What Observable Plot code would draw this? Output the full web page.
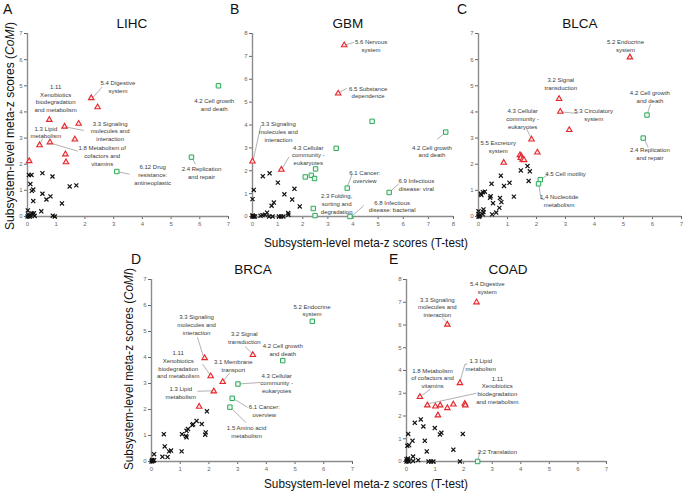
<!DOCTYPE html>
<html><head><meta charset="utf-8">
<script src="https://cdn.jsdelivr.net/npm/d3@7"></script>
<script src="https://cdn.jsdelivr.net/npm/@observablehq/plot@0.6"></script>
<style>
body{margin:0;background:#fff;}
#fig{position:relative;width:685px;height:491px;overflow:hidden;background:#fff;}
#fig svg{position:absolute;overflow:visible;}
</style></head><body><div id="fig"></div>
<script>
// ---------- LIHC ----------
const lihcOther = [[0.05,1.59],[0.14,1.59],[0.52,1.66],[0.87,1.53],[0.10,1.24],[0.20,1.03],[0.15,0.98],[0.52,0.87],[0.80,0.77],[0.66,0.65],[0.20,0.59],[1.20,0.50],[1.47,1.15],[1.70,1.19],[0.48,0.20],[0.01,0.23],[0.20,0.08],[0.22,0.13],[0.10,0.05],[0.05,0.02],[0.88,0.03],[0.95,0.00],[0.00,0.00],[0.03,0.05],[0.08,0.00],[0.15,0.12],[0.25,0.02]];
const lihcRed = [[2.22,4.53],[2.44,4.18],[0.76,3.70],[1.29,3.44],[1.78,3.55],[1.65,2.95],[0.42,2.73],[0.78,2.84],[1.32,2.38],[1.34,2.08],[0.06,2.12]];
const lihcGreen = [[6.65,5.00],[5.71,2.27],[3.11,1.72]];
const lihcNotes = [
  [0.98,4.53,"1.11\nXenobiotics\nbiodegradation\nand metabolism"],
  [3.15,4.96,"5.4 Digestive\nsystem"],
  [2.88,3.28,"3.3 Signaling\nmolecules and\ninteraction"],
  [0.64,3.23,"1.3 Lipid\nmetabolism"],
  [2.60,2.33,"1.8 Metabolism of\ncofactors and\nvitamins"],
  [4.36,1.60,"6.12 Drug\nresistance:\nantineoplastic"],
  [6.50,4.29,"4.2 Cell growth\nand death"],
  [6.06,1.68,"2.4 Replication\nand repair"]];
const lihcLeaders = [[2.29,4.57,2.60,4.95],[1.35,3.42,1.96,3.29],[0.45,2.80,0.52,2.97],[0.83,2.80,1.75,2.50],[3.11,1.72,3.55,1.62],[5.74,2.22,5.85,2.00]];

// ---------- GBM ----------
const gbmOther = [[0.41,1.76],[0.68,1.89],[1.01,1.48],[0.05,1.16],[0.00,0.76],[1.27,0.97],[1.67,1.21],[1.58,0.74],[0.85,0.61],[0.76,0.47],[1.88,0.44],[1.42,0.15],[1.43,0.08],[0.58,0.17],[0.50,0.08],[0.40,0.06],[0.32,0.03],[0.66,0.00],[0.80,0.00],[1.05,0.00],[1.14,0.00],[1.23,0.00],[0.00,0.00],[0.02,0.02],[0.05,0.00],[0.00,0.05],[0.10,0.00]];
const gbmRed = [[3.65,7.49],[3.41,5.38],[0.00,2.41],[1.15,2.05]];
const gbmGreen = [[4.76,4.16],[7.69,3.69],[3.33,2.98],[2.51,2.08],[2.10,1.73],[2.34,1.80],[2.47,1.66],[3.77,1.24],[5.44,1.05],[2.42,0.35],[2.49,0.04],[3.88,0.00]];
const gbmNotes = [
  [4.72,7.47,"5.6 Nervous\nsystem"],
  [4.60,5.44,"6.5 Substance\ndependence"],
  [1.03,3.71,"3.3 Signaling\nmolecules and\ninteraction"],
  [2.22,2.70,"4.3 Cellular\ncommunity -\neukaryotes"],
  [4.47,1.75,"6.1 Cancer:\noverview"],
  [6.52,1.40,"6.9 Infectious\ndisease: viral"],
  [3.35,0.56,"2.3 Folding,\nsorting and\ndegradation"],
  [5.56,0.46,"6.8 Infectious\ndisease: bacterial"],
  [7.14,2.86,"4.2 Cell growth\nand death"]];
const gbmLeaders = [[3.70,7.50,4.05,7.62],[3.45,5.42,3.75,5.60],[0.03,2.47,0.33,3.97],[1.18,2.10,1.45,2.60],[3.77,1.30,3.97,1.86],[5.44,1.05,5.82,1.43],[3.94,0.00,4.43,0.48],[7.62,3.62,7.35,3.38]];

// ---------- BLCA ----------
const blcaOther = [[1.69,1.93],[1.46,1.76],[1.77,1.73],[1.73,1.36],[0.77,1.56],[0.45,1.25],[1.07,1.29],[0.88,1.17],[1.22,0.76],[0.22,0.95],[0.15,0.93],[0.08,0.87],[0.10,0.82],[0.42,0.78],[0.40,0.72],[0.74,0.71],[0.79,0.55],[0.50,0.51],[0.72,0.33],[0.61,0.15],[0.47,0.08],[0.17,0.27],[0.17,0.17],[0.15,0.08],[0.00,0.20],[0.00,0.10],[0.00,0.00],[0.05,0.05],[0.03,0.00]];
const blcaRed = [[5.22,6.09],[2.78,4.50],[2.82,4.01],[3.13,3.31],[1.83,2.95],[2.03,2.45],[0.87,2.06],[1.43,2.35],[1.48,2.30],[1.46,2.24],[1.52,2.18],[1.57,2.16]];
const blcaGreen = [[5.81,3.88],[5.68,3.00],[2.13,1.41],[2.07,1.25]];
const blcaNotes = [
  [5.07,6.53,"5.2 Endocrine\nsystem"],
  [2.84,5.09,"3.2 Signal\ntransduction"],
  [3.97,3.90,"5.3 Circulatory\nsystem"],
  [1.52,3.75,"4.3 Cellular\ncommunity -\neukaryotes"],
  [0.68,2.67,"5.5 Excretory\nsystem"],
  [5.91,4.60,"4.2 Cell growth\nand death"],
  [5.91,2.42,"2.4 Replication\nand repair"],
  [3.00,1.64,"4.5 Cell motility"],
  [2.78,0.60,"1.4 Nucleotide\nmetabolism"]];
const blcaLeaders = [[2.85,4.00,3.42,3.94],[1.80,3.03,1.66,3.35],[5.83,3.95,5.93,4.30],[5.72,2.95,5.85,2.65],[2.14,1.41,2.42,1.62],[2.09,1.16,2.15,0.68],[2.15,0.68,2.28,0.64]];

// ---------- BRCA ----------
const brcaOther = [[1.93,1.93],[1.57,1.56],[1.75,1.44],[1.45,1.43],[1.42,1.40],[1.27,1.25],[1.22,1.18],[1.06,1.05],[1.20,0.98],[1.22,0.93],[1.89,1.12],[1.87,1.03],[0.43,1.05],[0.46,0.58],[0.68,0.42],[0.61,0.39],[1.05,0.39],[0.38,0.18],[0.56,0.17],[0.09,0.28],[0.00,0.00],[0.03,0.02],[0.06,0.03],[0.02,0.06],[0.09,0.05]];
const brcaRed = [[1.85,3.98],[2.06,3.28],[3.53,4.10],[2.48,3.06],[2.17,2.70],[1.66,2.11]];
const brcaGreen = [[5.60,5.39],[4.57,3.88],[3.01,2.98],[2.81,2.43],[2.73,2.09]];
const brcaNotes = [
  [5.59,5.83,"5.2 Endocrine\nsystem"],
  [1.57,5.27,"3.3 Signaling\nmolecules and\ninteraction"],
  [3.23,4.77,"3.2 Signal\ntransduction"],
  [4.57,4.31,"4.2 Cell growth\nand death"],
  [0.93,3.73,"1.11\nXenobiotics\nbiodegradation\nand metabolism"],
  [2.85,3.70,"3.1 Membrane\ntransport"],
  [4.36,3.03,"4.3 Cellular\ncommunity -\neukaryotes"],
  [1.02,2.65,"1.3 Lipid\nmetabolism"],
  [3.93,1.95,"6.1 Cancer:\noverview"],
  [3.31,1.14,"1.5 Amino acid\nmetabolism"]];
const brcaLeaders = [[1.81,4.03,1.60,4.78],[3.52,4.14,3.26,4.42],[2.05,3.31,1.78,3.75],[2.50,3.10,2.72,3.40],[3.01,2.98,3.79,3.04],[2.16,2.72,1.60,2.70],[2.88,2.40,3.35,2.08],[2.77,2.06,3.29,1.50]];

// ---------- COAD ----------
const coadOther = [[0.29,1.70],[0.50,1.85],[0.59,1.54],[0.99,1.47],[1.22,1.26],[1.17,1.19],[1.97,1.21],[0.06,1.21],[0.21,0.91],[0.64,0.91],[0.03,0.69],[0.09,0.72],[0.71,0.44],[1.64,0.52],[0.23,0.22],[0.41,0.06],[0.23,0.02],[0.77,0.00],[0.86,0.00],[0.94,0.00],[1.87,0.00],[0.00,0.00],[0.03,0.03],[0.06,0.06],[0.00,0.10],[0.08,0.00],[0.05,0.13]];
const coadRed = [[2.45,7.00],[1.43,6.02],[1.87,3.45],[0.47,2.84],[0.73,2.47],[1.01,2.42],[1.18,2.47],[1.43,2.35],[1.64,2.51],[2.04,2.54],[2.06,2.47],[1.10,2.03]];
const coadGreen = [[2.49,0.00]];
const coadNotes = [
  [2.83,7.64,"5.4 Digestive\nsystem"],
  [1.08,6.79,"3.3 Signaling\nmolecules and\ninteraction"],
  [2.60,4.27,"1.3 Lipid\nmetabolism"],
  [0.91,3.68,"1.8 Metabolism\nof cofactors and\nvitamins"],
  [3.18,3.15,"1.11\nXenobiotics\nbiodegradation\nand metabolism"],
  [3.18,0.44,"2.2 Translation"]];
const coadLeaders = [[1.43,6.10,1.25,6.32],[1.88,3.55,2.04,4.26],[2.04,4.26,2.13,4.29],[0.48,2.85,0.85,3.19],[0.80,2.55,2.45,3.00],[2.50,0.06,2.56,0.42],[2.56,0.42,2.66,0.44]];

const panelLetters = ["A","B","C","D","E"];
const panelTitles = ["LIHC","GBM","BLCA","BRCA","COAD"];
const xAxisTitle = "Subsystem-level meta-z scores (T-test)";
const yAxisTitleA = "Subsystem-level meta-z scores (";
const yAxisTitleB = "CoMI";
const yAxisTitleC = ")";

const FONT = '"Liberation Sans", Arial, Helvetica, sans-serif';
const fig = document.getElementById("fig");

function panel(p, other, red, green, notes, leaders) {
  const pts = a => a.map(([x, y]) => ({x, y}));
  const svg = Plot.plot({
    width: p.w, height: p.h,
    marginLeft: 27, marginRight: 3, marginTop: 33, marginBottom: 20,
    x: {domain: [0, p.xMax]},
    y: {domain: [0, p.yMax]},
    style: {fontFamily: FONT, background: "transparent", overflow: "visible"},
    marks: [
      Plot.axisX({ticks: d3.range(0, p.xMax + 1), tickSize: 3, tickPadding: 2, fontSize: 6, tickFormat: d => String(d), label: null, color: "#666"}),
      Plot.axisY({ticks: d3.range(0, p.yMax + 1), tickSize: 3, tickPadding: 2, fontSize: 6, tickFormat: d => String(d), label: null, color: "#666"}),
      Plot.ruleY([0], {stroke: "#8c8c8c", strokeWidth: 1.4}),
      Plot.ruleX([0], {stroke: "#8c8c8c", strokeWidth: 1.4}),
      Plot.link(leaders, {x1: d => d[0], y1: d => d[1], x2: d => d[2], y2: d => d[3], stroke: "#8f8f8f", strokeWidth: 0.7}),
      Plot.dot(pts(other), {x: "x", y: "y", symbol: "times", r: 2.0, stroke: "#111", strokeWidth: 1.2}),
      Plot.dot(pts(green), {x: "x", y: "y", symbol: "square", r: 2.5, stroke: "#2fa85a", fill: "#e9f8ee", strokeWidth: 1.0}),
      Plot.dot(pts(red), {x: "x", y: "y", symbol: "triangle", r: 2.05, stroke: "#e4262b", fill: "#ffe6e6", strokeWidth: 1.1}),
      Plot.text(notes, {x: d => d[0], y: d => d[1], text: d => d[2], fontSize: 6, lineHeight: 1.28, fill: "#3a3a3a", fontFamily: FONT})
    ]
  });
  svg.style.left = p.left + "px";
  svg.style.top = p.top + "px";
  fig.appendChild(svg);
}

panel({left: 0,   top: 0,   w: 231, h: 236, xMax: 7, yMax: 7}, lihcOther, lihcRed, lihcGreen, lihcNotes, lihcLeaders);
panel({left: 225, top: 0,   w: 231, h: 236, xMax: 8, yMax: 8}, gbmOther, gbmRed, gbmGreen, gbmNotes, gbmLeaders);
panel({left: 451, top: 0,   w: 233, h: 236, xMax: 7, yMax: 7}, blcaOther, blcaRed, blcaGreen, blcaNotes, blcaLeaders);
panel({left: 124, top: 246, w: 231, h: 235, xMax: 7, yMax: 7}, brcaOther, brcaRed, brcaGreen, brcaNotes, brcaLeaders);
panel({left: 379, top: 246, w: 230, h: 235, xMax: 7, yMax: 8}, coadOther, coadRed, coadGreen, coadNotes, coadLeaders);

// overlay for letters, titles, axis titles
const ov = d3.select(fig).append("svg").attr("width", 685).attr("height", 491)
  .style("left", "0px").style("top", "0px").style("pointer-events", "none")
  .attr("font-family", FONT);
const letterPos = [[3,14],[230,14],[457,14],[131,263.5],[389,263.5]];
const titlePos = [[132,28],[348,28],[580,28],[253,274],[508,274]];
panelLetters.forEach((t, i) => ov.append("text").attr("x", letterPos[i][0]).attr("y", letterPos[i][1]).attr("font-size", 14).attr("fill", "#111").text(t));
panelTitles.forEach((t, i) => ov.append("text").attr("x", titlePos[i][0]).attr("y", titlePos[i][1]).attr("text-anchor", "middle").attr("font-size", 13.5).attr("fill", "#111").text(t));
[[264,247],[264,488]].forEach(([x, y]) => ov.append("text").attr("x", x).attr("y", y).attr("font-size", 13)
  .attr("textLength", 204).attr("lengthAdjust", "spacingAndGlyphs").attr("fill", "#111").text(xAxisTitle));
[[14,230,208],[133,470,202]].forEach(([x, y, len]) => {
  const t = ov.append("text").attr("transform", `translate(${x},${y}) rotate(-90)`).attr("font-size", 13)
    .attr("textLength", len).attr("lengthAdjust", "spacingAndGlyphs").attr("fill", "#111");
  t.append("tspan").text(yAxisTitleA);
  t.append("tspan").attr("font-style", "italic").text(yAxisTitleB);
  t.append("tspan").text(yAxisTitleC);
});
</script></body></html>
